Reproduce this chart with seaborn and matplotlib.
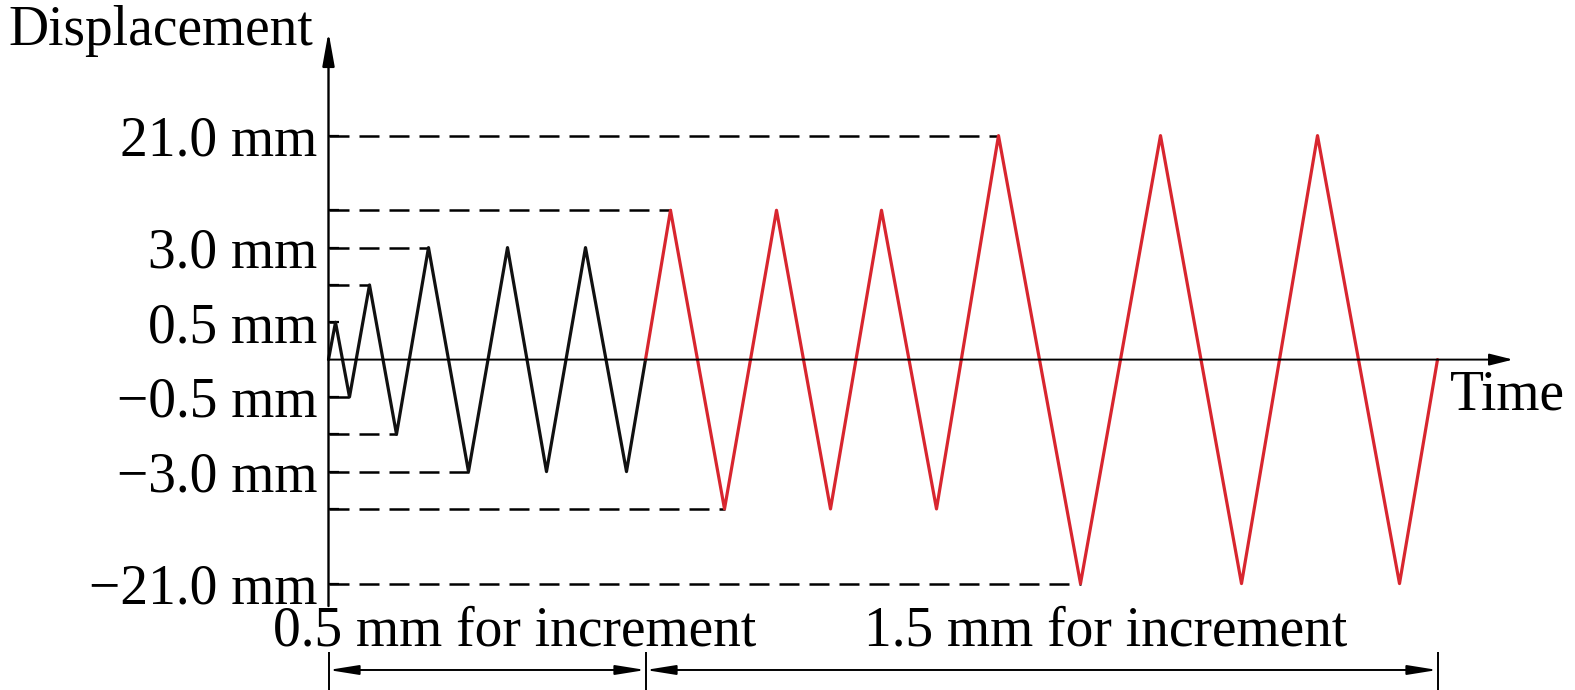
import numpy as np
import pandas as pd
import matplotlib
matplotlib.use("Agg")
import matplotlib.pyplot as plt
import seaborn as sns

# ---------------- data ----------------
black_time = [0, 0.7, 2.1, 4.1, 6.8, 10.0, 14.0, 17.9, 21.8, 25.7, 29.8, 31.7]
black_disp = [0, 0.5, -0.5, 1.5, -1.5, 3.0, -3.0, 3.0, -3.0, 3.0, -3.0, 0]
red_time = [31.7, 34.2, 39.6, 44.8, 50.2, 55.3, 60.8, 67.0, 75.2, 83.2, 91.3, 98.9, 107.1, 110.9]
red_disp = [0, 4.5, -4.5, 4.5, -4.5, 4.5, -4.5, 21.0, -21.0, 21.0, -21.0, 21.0, -21.0, 0]

# schematic (non-linear) displacement axis: mm value -> drawn level
level_mm = [-60, -21, -4.5, -3, -1.5, -0.5, 0, 0.5, 1.5, 3, 4.5, 21, 60]
level_pos = [-10, -6, -4, -3, -2, -1, 0, 1, 2, 3, 4, 6, 10]

tick_values = [21.0, 4.5, 3.0, 1.5, 0.5, -0.5, -1.5, -3.0, -4.5, -21.0]
tick_labels = ["21.0 mm", "", "3.0 mm", "", "0.5 mm", "\u22120.5 mm", "",
               "\u22123.0 mm", "", "\u221221.0 mm"]
phase_labels = ["0.5 mm for increment", "1.5 mm for increment"]
phase_colors = ["#111111", "#d8262f"]

# ---------------- style ----------------
sns.set_style("white")
plt.rcParams["font.family"] = ["Liberation Serif", "DejaVu Serif"]
plt.rcParams["text.color"] = "black"
plt.rcParams["ytick.color"] = "black"
plt.rcParams["ytick.labelcolor"] = "black"

FS = 40

fig = plt.figure(figsize=(15.75, 6.9), dpi=100)
ax = fig.add_axes([0, 0, 1, 1])

df = pd.concat([
    pd.DataFrame({"time": black_time, "disp": black_disp, "phase": phase_labels[0]}),
    pd.DataFrame({"time": red_time, "disp": red_disp, "phase": phase_labels[1]}),
], ignore_index=True)

sns.lineplot(data=df, x="time", y="disp", hue="phase", palette=phase_colors,
             sort=False, estimator=None, linewidth=2.3, legend=False, ax=ax,
             zorder=3)

fwd = lambda v: np.interp(v, level_mm, level_pos)
inv = lambda s: np.interp(s, level_pos, level_mm)
ax.set_yscale("function", functions=(fwd, inv))

ax.set_xlim(-32.85, 124.65)
ax.set_ylim(inv(-8.851), inv(9.633))

# dashed guide lines from axis to first peak reaching each level
all_t = black_time + red_time
all_d = black_disp + red_disp
for lv in tick_values:
    t_first = next(t for t, d in zip(all_t, all_d) if d == lv)
    ax.plot([0, t_first], [lv, lv], color="black", lw=1.8,
            dashes=(8.0, 4.0), zorder=2)

# axes spines / ticks
for s in ["top", "right", "bottom", "left"]:
    ax.spines[s].set_visible(False)
ax.spines["left"].set_position(("data", 0))
ax.set_xticks([])
ax.set_yticks(tick_values, tick_labels)
ax.tick_params(axis="y", direction="in", length=7, width=1.6, pad=8,
               labelsize=FS, left=True, colors="black")
ax.set_xlabel("")
ax.set_ylabel("")

xt = ax.get_xaxis_transform()
# y axis arrow
ax.annotate("", xy=(0, 0.9536), xytext=(0, 0.1217), xycoords=xt, textcoords=xt,
            arrowprops=dict(arrowstyle="-|>,head_length=1.45,head_width=0.26",
                            color="black", lw=1.7, mutation_scale=14,
                            shrinkA=0, shrinkB=0))
# x axis arrow
ax.annotate("", xy=(118.45, 0), xytext=(0, 0),
            arrowprops=dict(arrowstyle="-|>,head_length=1.2,head_width=0.3",
                            color="black", lw=1.4, mutation_scale=12,
                            shrinkA=0, shrinkB=0))

# dimension lines under the plot
bounds = [black_time[0], red_time[0], red_time[-1]]
ax.vlines(bounds, 0, 0.055, transform=xt, color="black", lw=1.4)
for a, b in zip(bounds[:-1], bounds[1:]):
    ax.annotate("", xy=(b, 0.029), xytext=(a, 0.029), xycoords=xt, textcoords=xt,
                arrowprops=dict(arrowstyle="<|-|>,head_length=1.5,head_width=0.24",
                                color="black", lw=1.4, mutation_scale=12,
                                shrinkA=0, shrinkB=0))
ax.text(0.327, 0.0638, phase_labels[0], transform=ax.transAxes, fontsize=FS,
        ha="center", va="baseline")
ax.text(0.702, 0.0638, phase_labels[1], transform=ax.transAxes, fontsize=FS,
        ha="center", va="baseline")

ax.text(0.1987, 0.9348, "Displacement", transform=ax.transAxes, fontsize=FS,
        ha="right", va="baseline")
ax.text(0.9206, 0.4058, "Time", transform=ax.transAxes, fontsize=FS,
        ha="left", va="baseline")

fig.savefig("out.png", dpi=100)
